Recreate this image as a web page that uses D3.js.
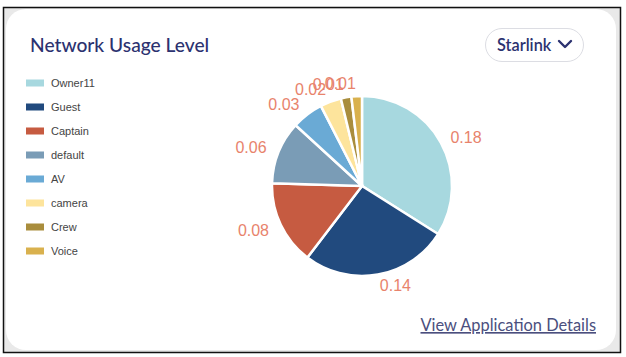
<!DOCTYPE html>
<html><head><meta charset="utf-8">
<script src="https://cdn.jsdelivr.net/npm/d3@7"></script>
<style>
html,body{margin:0;padding:0;background:#fff;}
svg{display:block;}
</style></head><body>
<svg id="c" width="626" height="357"></svg>
<script>
const categories = ["Owner11","Guest","Captain","default","AV","camera","Crew","Voice"];
const values = [0.18,0.14,0.08,0.06,0.03,0.02,0.01,0.01];
const colors = ["#a7d8df","#214a7e","#c65b41","#7a9cb6","#6aaad5","#fde49c","#a98d3d","#d9b14e"];
const title = "Network Usage Level";
const dropdown = "Starlink";
const link = "View Application Details";

const svg = d3.select("#c");
// outer frame
svg.append("rect").attr("x",3.5).attr("y",7.5).attr("width",617).attr("height",345)
  .attr("fill","#e9e9e9").attr("stroke","#111").attr("stroke-width",1.5);
svg.append("rect").attr("x",6).attr("y",9).attr("width",610).attr("height",341).attr("rx",20)
  .attr("fill","#fff");

svg.append("text").attr("x",30).attr("y",52).text(title)
  .attr("font-family","Lato, 'Open Sans', sans-serif").attr("font-size",19.2).attr("font-weight",500)
  .attr("fill","#2c3270");

// dropdown pill
svg.append("rect").attr("x",485.5).attr("y",28.5).attr("width",98).attr("height",33).attr("rx",16.5)
  .attr("fill","#fff").attr("stroke","#dcdde3");
svg.append("text").attr("x",497).attr("y",51).text(dropdown)
  .attr("font-family","Lato, sans-serif").attr("font-size",16.3).attr("font-weight",600).attr("fill","#2c3270");
svg.append("path").attr("d","M559,41 L565,47 L571,41").attr("fill","none").attr("stroke","#2c3270")
  .attr("stroke-width",2.4).attr("stroke-linecap","round").attr("stroke-linejoin","round");

// legend
const leg = svg.append("g");
const ly = d3.scaleBand().domain(categories).range([71,263]);
categories.forEach((c,i)=>{
  const y = ly(c)+ly.bandwidth()/2;
  leg.append("rect").attr("x",26).attr("y",y-3.5).attr("width",18).attr("height",7).attr("fill",colors[i]);
  leg.append("text").attr("x",51).attr("y",y+4).text(c)
    .attr("font-family","'Liberation Sans', Arial, sans-serif").attr("font-size",11).attr("fill","#444");
});

// pie
const cx=362, cy=186, r=90;
const pie = d3.pie().sort(null).value(d=>d)(values);
const arc = d3.arc().innerRadius(0).outerRadius(r);
const g = svg.append("g").attr("transform",`translate(${cx},${cy})`);
g.selectAll("path").data(pie).join("path").attr("d",arc)
  .attr("fill",(d,i)=>colors[i]).attr("stroke","#fff").attr("stroke-width",2.5);
g.selectAll("text").data(pie).join("text")
  .each(function(d){
    const a=(d.startAngle+d.endAngle)/2;
    const right = Math.sin(a)>=0;
    const lr = right ? 101 : 103;
    const x=Math.sin(a)*lr, y=-Math.cos(a)*lr;
    d3.select(this).attr("x",x).attr("y",y).attr("dy","0.35em")
      .attr("text-anchor", right?"start":"end");
  })
  .text((d,i)=>values[i])
  .attr("font-family","'Liberation Sans', Arial, sans-serif").attr("font-size",16).attr("fill","#e8836c");

// link
svg.append("text").attr("x",596).attr("y",331).attr("text-anchor","end").text(link)
  .attr("font-family","Lato, sans-serif").attr("font-size",16.4).attr("fill","#4b4f7e")
  .attr("text-decoration","underline");
</script>
</body></html>
